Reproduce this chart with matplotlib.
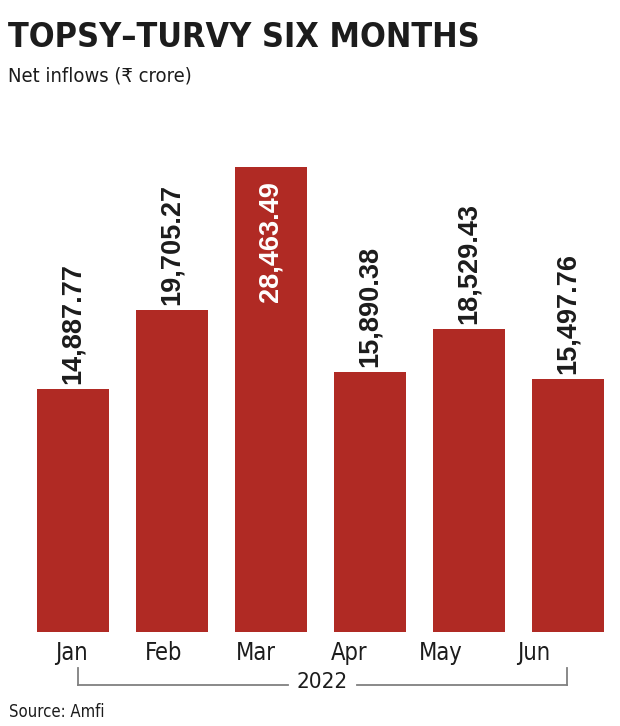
import matplotlib
matplotlib.use('Agg')
import matplotlib.pyplot as plt
from matplotlib import font_manager as fm
from matplotlib.transforms import blended_transform_factory
from matplotlib.lines import Line2D

# ---------------- data ----------------
months = ['Jan', 'Feb', 'Mar', 'Apr', 'May', 'Jun']
inflows = [14887.77, 19705.27, 28463.49, 15890.38, 18529.43, 15497.76]
year_label = '2022'
title = 'TOPSY–TURVY SIX MONTHS'
subtitle = 'Net inflows (₹ crore)'
source = 'Source: Amfi'

# ---------------- styling ----------------
RED = '#b02a24'
INK = '#1c1c1c'
GRAY = '#808080'
W, H = 620, 726

names = {f.name for f in fm.fontManager.ttflist}
dejavu_cond = any(f.name == 'DejaVu Sans' and str(f.stretch) in ('condensed', 'semi-condensed', '87.5', '75')
                  for f in fm.fontManager.ttflist)
if 'Liberation Sans Narrow' in names:
    NARROW = dict(family=['Liberation Sans Narrow', 'DejaVu Sans'])
elif dejavu_cond:
    NARROW = dict(family=['DejaVu Sans'], stretch='condensed')
else:
    NARROW = dict(family=['Liberation Sans', 'DejaVu Sans'])
BOLDNUM = dict(family=['Liberation Sans', 'DejaVu Sans'], weight='bold')


def fx(px):
    return px / W


def fy(py):
    return 1 - py / H


fig = plt.figure(figsize=(W / 100, H / 100), dpi=100)
fig.patch.set_facecolor('white')

px_per_unit = 0.016337
ax = fig.add_axes([fx(23.5), fy(632), 594 / W, 500 / H])
x = list(range(len(months)))
ax.bar(x, inflows, width=0.737, color=RED, linewidth=0)
ax.set_xlim(-0.5, len(months) - 0.5)
ax.set_ylim(0, 500 / px_per_unit)
ax.axis('off')

vmax = max(inflows)
for i, v in zip(x, inflows):
    txt = f'{v:,.2f}'
    if v == vmax:
        ax.annotate(txt, (i, v), xytext=(0, -14 * 0.72), textcoords='offset points',
                    rotation=90, ha='center', va='top', color='white', fontsize=19.5, **BOLDNUM)
    else:
        ax.annotate(txt, (i, v), xytext=(0, 5 * 0.72), textcoords='offset points',
                    rotation=90, ha='center', va='bottom', color=INK, fontsize=19.5, **BOLDNUM)

# month labels (laid out slightly tighter than bars, as in original)
trans = blended_transform_factory(ax.transData, fig.transFigure)
for i, m in enumerate(months):
    ax.text(-0.02 + 0.935 * i, fy(660), m, transform=trans, ha='center', va='baseline',
            fontsize=17, color=INK, clip_on=False, **NARROW)

# year bracket
x0, x1 = 0.05, 4.99
mid = (x0 + x1) / 2
half_gap = 0.345
ytop, ybot = fy(668), fy(685)
for seg in ([x0, x0], [x1, x1]):
    fig.add_artist(Line2D(seg, [ytop, ybot], transform=trans, color=GRAY, lw=1.3))
fig.add_artist(Line2D([x0, mid - half_gap], [ybot, ybot], transform=trans, color=GRAY, lw=1.3))
fig.add_artist(Line2D([mid + half_gap, x1], [ybot, ybot], transform=trans, color=GRAY, lw=1.3))
ax.text(mid, fy(688), year_label, transform=trans, ha='center', va='baseline',
        fontsize=16, color=INK, clip_on=False, **NARROW)

# titles and source
fig.text(fx(8), fy(47), title, ha='left', va='baseline', fontsize=24.5, weight='bold',
         color=INK, **NARROW)
fig.text(fx(8), fy(82), subtitle, ha='left', va='baseline', fontsize=14.5, color=INK, **NARROW)
fig.text(fx(9), fy(717), source, ha='left', va='baseline', fontsize=12, color=INK, **NARROW)

fig.savefig('out.png', dpi=100, facecolor='white')
